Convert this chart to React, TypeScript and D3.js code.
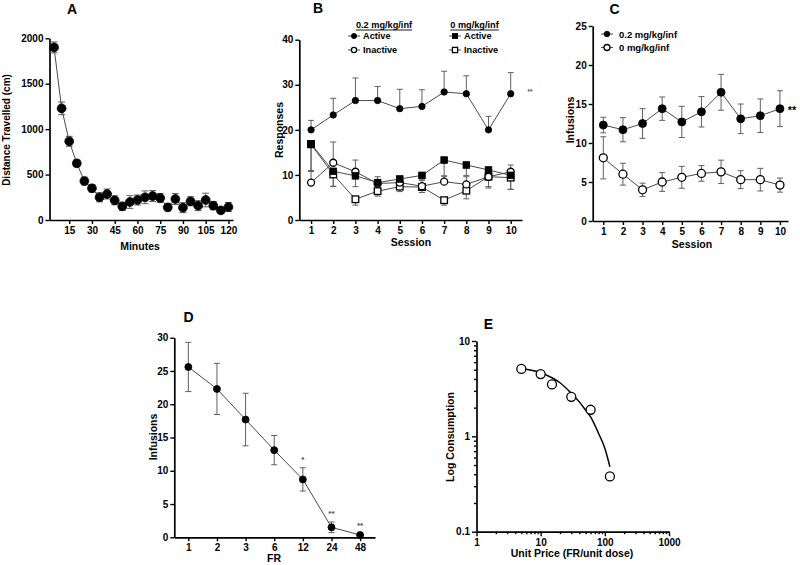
import React, { useEffect, useRef } from "react";
import * as d3 from "d3";

// ---------- Panel A ----------
const minutes = [5, 10, 15, 20, 25, 30, 35, 40, 45, 50, 55, 60, 65, 70, 75, 80, 85, 90, 95, 100, 105, 110, 115, 120];
const distance = [1900, 1229, 866, 624, 429, 349, 250, 286, 217, 150, 198, 220, 250, 264, 242, 139, 231, 136, 206, 158, 220, 158, 106, 143];
const distanceSem = [60, 70, 55, 37, 42, 40, 50, 55, 50, 45, 70, 55, 70, 60, 50, 38, 60, 55, 50, 55, 75, 45, 30, 50];
const minuteTicks = [15, 30, 45, 60, 75, 90, 105, 120];
const distanceTicks = [0, 500, 1000, 1500, 2000];

// ---------- Panel B ----------
const sessions = [1, 2, 3, 4, 5, 6, 7, 8, 9, 10];
const activeDrug = [20, 23.3, 26.5, 26.5, 24.7, 25.2, 28.4, 28, 20, 28];
const activeDrugSem = [2.1, 3.7, 5, 3.1, 4.3, 3.7, 4.6, 4, 3, 4.7];
const inactiveDrug = [8.3, 12.7, 10.7, 8.1, 8.3, 7.5, 8.5, 7.9, 9.6, 10.7];
const inactiveDrugSem = [2.7, 4.6, 2.6, 1.5, 1.2, 1.3, 1.3, 2.0, 1.4, 1.5];
const activeSaline = [16.9, 10.8, 9.8, 8.3, 9.1, 9.9, 13.3, 12.2, 11.1, 9.9];
const activeSalineSem = [6.1, 3.4, 2.4, 1.5, 1.2, 1.0, 3.6, 2.6, 3.7, 3.1];
const inactiveSaline = [16.8, 10.1, 4.6, 6.4, 7.4, 7.3, 4.4, 6.5, 9.6, 9.4];
const inactiveSalineSem = [6, 2.6, 1.3, 1.1, 1.1, 1.2, 1.1, 1.8, 2.5, 2.6];
const responseTicks = [0, 10, 20, 30, 40];

// ---------- Panel C ----------
const infDrug = [12.3, 11.7, 12.5, 14.4, 12.7, 14.0, 16.5, 13.1, 13.5, 14.4];
const infDrugSem = [1.0, 1.55, 1.9, 1.5, 2.0, 1.95, 2.3, 1.9, 2.15, 2.3];
const infSaline = [8.1, 6.0, 4.0, 5.0, 5.6, 6.1, 6.3, 5.3, 5.3, 4.6];
const infSalineSem = [2.7, 1.4, 0.85, 1.2, 1.4, 1.0, 1.5, 1.15, 1.45, 0.9];
const infusionTicksC = [0, 5, 10, 15, 20, 25];

// ---------- Panel D ----------
const frLabels = ["1", "2", "3", "6", "12", "24", "48"];
const frInfusions = [25.6, 22.3, 17.7, 13.1, 8.7, 1.5, 0.35];
const frSem = [3.7, 3.85, 3.95, 2.2, 1.75, 0.8, 0.15];
const frSig = ["", "", "", "", "*", "**", "**"];
const infusionTicksD = [0, 5, 10, 15, 20, 25, 30];

// ---------- Panel E ----------
const unitPrice = [5, 10, 15, 30, 60, 120];
const consumption = [5.1, 4.5, 3.5, 2.6, 1.9, 0.38];
const fitPrice = [5, 10, 15, 20, 30, 40, 50, 60, 80, 100, 120];
const fitConsumption = [5.15, 4.65, 4.12, 3.65, 2.83, 2.3, 1.89, 1.6, 1.07, 0.75, 0.48];
const priceTicks = [1, 10, 100, 1000];
const consumptionTicks = [0.1, 1, 10];

const FONT = "'Liberation Sans', Arial, Helvetica, sans-serif";
const LINE = "#4a4a4a";
const ERR = "#606060";

export default function App() {
  const ref = useRef<SVGSVGElement>(null);

  useEffect(() => {
    const svg = d3.select(ref.current as SVGSVGElement);
    svg.selectAll("*").remove();
    svg.attr("font-family", FONT).attr("font-weight", "bold");

    const styleAxis = (g: any) => {
      g.select(".domain").attr("stroke", "#000").attr("stroke-width", 1.7);
      g.selectAll(".tick line").attr("stroke", "#000").attr("stroke-width", 1.4);
      g.selectAll(".tick text")
        .attr("fill", "#000")
        .attr("font-size", 10)
        .attr("font-weight", "bold")
        .attr("font-family", FONT);
    };

    const label = (x: number, y: number, s: string, size: number, opts: any = {}) => {
      const t = svg
        .append("text")
        .attr("x", x)
        .attr("y", y)
        .attr("text-anchor", opts.anchor || "middle")
        .attr("dominant-baseline", "central")
        .attr("font-size", size)
        .attr("fill", opts.fill || "#000")
        .text(s);
      if (opts.rotate) t.attr("transform", `rotate(-90,${x},${y})`);
      return t;
    };

    const errBars = (
      xs: number[],
      ms: number[],
      es: number[],
      x: (v: any) => number,
      y: (v: number) => number,
      dir: "up" | "down" | "both",
      cap = 6
    ) => {
      const g = svg.append("g").attr("stroke", ERR).attr("stroke-width", 1).attr("fill", "none");
      xs.forEach((xv, i) => {
        const cx = x(xv);
        const ends: number[] = [];
        if (dir !== "down") ends.push(ms[i] + es[i]);
        if (dir !== "up") ends.push(ms[i] - es[i]);
        ends.forEach((e) => {
          g.append("line").attr("x1", cx).attr("x2", cx).attr("y1", y(ms[i])).attr("y2", y(e));
          g.append("line").attr("x1", cx - cap / 2).attr("x2", cx + cap / 2).attr("y1", y(e)).attr("y2", y(e));
        });
      });
    };

    const seriesLine = (xs: any[], ms: number[], x: (v: any) => number, y: (v: number) => number) => {
      const line = d3
        .line<number>()
        .x((_, i) => x(xs[i]))
        .y((d) => y(d));
      svg.append("path").attr("d", line(ms)).attr("fill", "none").attr("stroke", LINE).attr("stroke-width", 1);
    };

    const markers = (
      xs: any[],
      ms: number[],
      x: (v: any) => number,
      y: (v: number) => number,
      shape: "circle" | "square",
      filled: boolean,
      size: number
    ) => {
      const g = svg.append("g");
      xs.forEach((xv, i) => {
        const cx = x(xv);
        const cy = y(ms[i]);
        const el =
          shape === "circle"
            ? g.append("circle").attr("cx", cx).attr("cy", cy).attr("r", size)
            : g
                .append("rect")
                .attr("x", cx - size)
                .attr("y", cy - size)
                .attr("width", size * 2)
                .attr("height", size * 2);
        el.attr("fill", filled ? "#000" : "#fff").attr("stroke", "#000").attr("stroke-width", filled ? 0.8 : 1.3);
      });
    };

    // ================= Panel A =================
    {
      const x = d3.scaleLinear().domain([2, 123]).range([49.5, 233]);
      const y = d3.scaleLinear().domain([0, 2000]).range([220, 38.3]);
      svg
        .append("g")
        .attr("transform", "translate(0,220)")
        .call(d3.axisBottom(x).tickValues(minuteTicks).tickFormat(d3.format("d")).tickSizeInner(4).tickSizeOuter(0).tickPadding(3))
        .call(styleAxis);
      svg
        .append("g")
        .attr("transform", "translate(49.5,0)")
        .call(d3.axisLeft(y).tickValues(distanceTicks).tickFormat(d3.format("d")).tickSizeInner(4).tickSizeOuter(0).tickPadding(2))
        .call(styleAxis);
      errBars(minutes, distance, distanceSem, x, y, "both", 7);
      seriesLine(minutes, distance, x, y);
      markers(minutes, distance, x, y, "circle", true, 4.4);
      label(72, 9, "A", 14);
      label(140, 246, "Minutes", 10.5);
      label(6, 130, "Distance Travelled (cm)", 10, { rotate: true });
    }

    // ================= Panel B =================
    {
      const x = d3.scaleLinear().domain([0.47, 10.51]).range([299.3, 522]);
      const y = d3.scaleLinear().domain([0, 40]).range([220, 39.7]);
      svg
        .append("g")
        .attr("transform", "translate(0,220)")
        .call(d3.axisBottom(x).tickValues(sessions).tickFormat(d3.format("d")).tickSizeInner(4).tickSizeOuter(0).tickPadding(3))
        .call(styleAxis);
      svg
        .append("g")
        .attr("transform", "translate(299.3,0)")
        .call(d3.axisLeft(y).tickValues(responseTicks).tickSizeInner(4).tickSizeOuter(0).tickPadding(2))
        .call(styleAxis);
      errBars(sessions, activeSaline, activeSalineSem, x, y, "down", 6);
      errBars(sessions, inactiveSaline, inactiveSalineSem, x, y, "down", 6);
      errBars(sessions, inactiveDrug, inactiveDrugSem, x, y, "up", 6);
      errBars(sessions, activeDrug, activeDrugSem, x, y, "up", 6);
      seriesLine(sessions, inactiveSaline, x, y);
      seriesLine(sessions, inactiveDrug, x, y);
      seriesLine(sessions, activeSaline, x, y);
      seriesLine(sessions, activeDrug, x, y);
      markers(sessions, inactiveSaline, x, y, "square", false, 3.3);
      markers(sessions, inactiveDrug, x, y, "circle", false, 3.5);
      markers(sessions, activeSaline, x, y, "square", true, 3.3);
      markers(sessions, activeDrug, x, y, "circle", true, 3.2);
      label(318, 8, "B", 14);
      label(411, 242, "Session", 10.5);
      label(278.5, 130, "Responses", 10.5, { rotate: true });
      label(530, 91, "**", 6.5, { fill: "#555" });

      // legend
      const header = (cx: number, s: string) => {
        const t = label(cx, 24.5, s, 9.2);
        const w = (t.node() as SVGTextElement).getComputedTextLength();
        svg
          .append("line")
          .attr("x1", cx - w / 2)
          .attr("x2", cx + w / 2)
          .attr("y1", 30)
          .attr("y2", 30)
          .attr("stroke", "#000")
          .attr("stroke-width", 0.9);
      };
      header(384, "0.2 mg/kg/inf");
      header(474.5, "0 mg/kg/inf");
      const legRow = (sx: number, sy: number, shape: "circle" | "square", filled: boolean, s: string) => {
        svg.append("line").attr("x1", sx - 6).attr("x2", sx + 6).attr("y1", sy).attr("y2", sy).attr("stroke", LINE).attr("stroke-width", 1);
        const id = (v: number) => v;
        markers([sx], [sy], id, id, shape, filled, 2.6);
        label(sx + 9, sy, s, 9.2, { anchor: "start" });
      };
      legRow(354, 36, "circle", true, "Active");
      legRow(354, 50, "circle", false, "Inactive");
      legRow(455, 36, "square", true, "Active");
      legRow(455, 50, "square", false, "Inactive");
    }

    // ================= Panel C =================
    {
      const x = d3.scaleLinear().domain([0.46, 10.41]).range([592.7, 788]);
      const y = d3.scaleLinear().domain([0, 25]).range([221, 26]);
      svg
        .append("g")
        .attr("transform", "translate(0,221)")
        .call(d3.axisBottom(x).tickValues(sessions).tickFormat(d3.format("d")).tickSizeInner(4).tickSizeOuter(0).tickPadding(3))
        .call(styleAxis);
      svg
        .append("g")
        .attr("transform", "translate(592.7,0)")
        .call(d3.axisLeft(y).tickValues(infusionTicksC).tickSizeInner(4).tickSizeOuter(0).tickPadding(2))
        .call(styleAxis);
      errBars(sessions, infSaline, infSalineSem, x, y, "both", 6);
      errBars(sessions, infDrug, infDrugSem, x, y, "both", 6);
      seriesLine(sessions, infSaline, x, y);
      seriesLine(sessions, infDrug, x, y);
      markers(sessions, infSaline, x, y, "circle", false, 4);
      markers(sessions, infDrug, x, y, "circle", true, 4);
      label(614.5, 9, "C", 14);
      label(692, 244, "Session", 10.5);
      label(570, 120, "Infusions", 10.5, { rotate: true });
      label(792, 110, "**", 11);
      const id = (v: number) => v;
      svg.append("line").attr("x1", 601).attr("x2", 613).attr("y1", 34).attr("y2", 34).attr("stroke", LINE);
      markers([607], [34], id, id, "circle", true, 2.8);
      label(619, 34, "0.2 mg/kg/inf", 9.5, { anchor: "start" });
      svg.append("line").attr("x1", 601).attr("x2", 613).attr("y1", 47.5).attr("y2", 47.5).attr("stroke", LINE);
      markers([607], [47.5], id, id, "circle", false, 3);
      label(619, 47.5, "0 mg/kg/inf", 9.5, { anchor: "start" });
    }

    // ================= Panel D =================
    {
      const xi = d3.scaleLinear().domain([-0.49, 6.52]).range([174.3, 375]);
      const x = (lab: string) => xi(frLabels.indexOf(lab));
      const y = d3.scaleLinear().domain([0, 30]).range([537.3, 337.7]);
      const xAxis = d3
        .axisBottom(xi)
        .tickValues(d3.range(frLabels.length))
        .tickFormat((d: any) => frLabels[d])
        .tickSizeInner(4)
        .tickSizeOuter(0)
        .tickPadding(3);
      svg.append("g").attr("transform", "translate(0,537.3)").call(xAxis).call(styleAxis);
      svg
        .append("g")
        .attr("transform", "translate(174.3,0)")
        .call(d3.axisLeft(y).tickValues(infusionTicksD).tickSizeInner(4).tickSizeOuter(0).tickPadding(2))
        .call(styleAxis);
      errBars(frLabels, frInfusions, frSem, x, y, "both", 6);
      seriesLine(frLabels, frInfusions, x, y);
      markers(frLabels, frInfusions, x, y, "circle", true, 3.5);
      frLabels.forEach((lab, i) => {
        if (!frSig[i]) return;
        const top = y(frInfusions[i] + frSem[i]);
        label(x(lab), top - 8, frSig[i], 8, { fill: "#444" });
      });
      label(188.5, 317, "D", 14);
      label(274, 558, "FR", 10.5);
      label(152.5, 437, "Infusions", 10.5, { rotate: true });
    }

    // ================= Panel E =================
    {
      const x = d3.scaleLog().domain([1, 1000]).range([476.5, 669]);
      const y = d3.scaleLog().domain([0.1, 10]).range([531.7, 341]);
      const minorX: number[] = [];
      const minorY: number[] = [];
      [1, 10, 100].forEach((d) => d3.range(2, 10).forEach((m) => minorX.push(d * m)));
      [0.1, 1].forEach((d) => d3.range(2, 10).forEach((m) => minorY.push(d * m)));
      svg
        .append("g")
        .attr("transform", "translate(0,531.7)")
        .call(d3.axisBottom(x).tickValues(minorX).tickFormat(() => "").tickSizeInner(2.5).tickSizeOuter(0))
        .call(styleAxis)
        .call((g: any) => g.select(".domain").remove());
      svg
        .append("g")
        .attr("transform", "translate(0,531.7)")
        .call(d3.axisBottom(x).tickValues(priceTicks).tickFormat(d3.format("d")).tickSizeInner(4.5).tickSizeOuter(0).tickPadding(3))
        .call(styleAxis);
      svg
        .append("g")
        .attr("transform", "translate(476.5,0)")
        .call(d3.axisLeft(y).tickValues(minorY).tickFormat(() => "").tickSizeInner(2.5).tickSizeOuter(0))
        .call(styleAxis)
        .call((g: any) => g.select(".domain").remove());
      svg
        .append("g")
        .attr("transform", "translate(476.5,0)")
        .call(
          d3
            .axisLeft(y)
            .tickValues(consumptionTicks)
            .tickFormat((d: any) => String(d))
            .tickSizeInner(4.5)
            .tickSizeOuter(0)
            .tickPadding(2)
        )
        .call(styleAxis);
      const fit = d3
        .line<number>()
        .x((_, i) => x(fitPrice[i]))
        .y((d) => y(d))
        .curve(d3.curveMonotoneX);
      svg.append("path").attr("d", fit(fitConsumption)).attr("fill", "none").attr("stroke", "#000").attr("stroke-width", 1.5);
      markers(unitPrice, consumption, x, y, "circle", false, 4.5);
      label(488.5, 323.5, "E", 14);
      label(572, 553, "Unit Price (FR/unit dose)", 10.5);
      label(449.5, 437, "Log Consumption", 10.5, { rotate: true });
    }
  }, []);

  return (
    <svg
      ref={ref}
      width={800}
      height={565}
      style={{ position: "absolute", left: 0, top: 0, display: "block", background: "#fff" }}
    />
  );
}
